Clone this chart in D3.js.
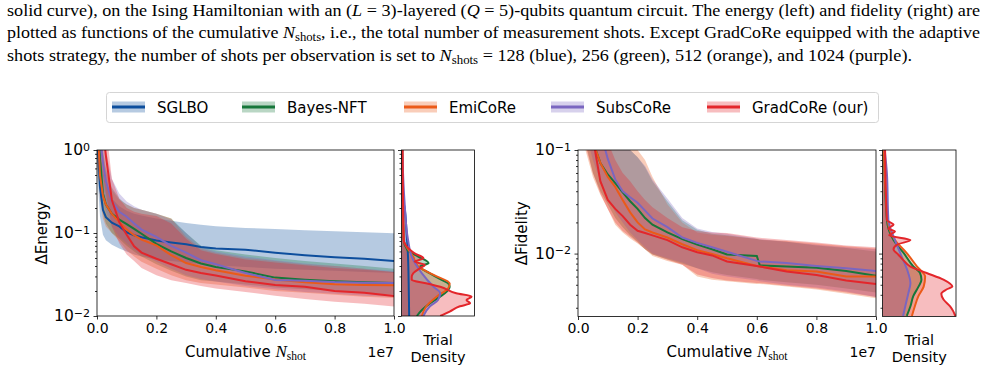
<!DOCTYPE html>
<html><head><meta charset="utf-8">
<script src="https://cdn.jsdelivr.net/npm/d3@7"></script>
<style>
  body { margin: 0; background: #fff; }
  svg text { font-family: "DejaVu Sans", sans-serif; fill: #000; }
  .cap { font-family: "Liberation Serif", "Times New Roman", serif; font-size: 17px; }
</style></head>
<body>
<svg id="fig" width="985" height="385"></svg>
<script>
// ---- data ----
var methods = ["SGLBO", "Bayes-NFT", "EmiCoRe", "SubsCoRe", "GradCoRe (our)"];
var colors  = ["#0d4e9d", "#16773a", "#eb5a18", "#7a66c0", "#e3262b"];

// cumulative shots (x 1e7), energy panel
var shotsE = [0, 0.01, 0.02, 0.03, 0.05, 0.075, 0.1, 0.125, 0.15, 0.2, 0.25, 0.3, 0.35, 0.4, 0.5, 0.6, 0.7, 0.8, 0.9, 1.0];

var eMeanSGLBO = [1.6, 0.36, 0.19, 0.155, 0.133, 0.12, 0.102, 0.094, 0.089, 0.081, 0.077, 0.073, 0.068, 0.065, 0.063, 0.058, 0.054, 0.051, 0.049, 0.046];
var eHiSGLBO   = [3, 1.0, 0.55, 0.38, 0.26, 0.21, 0.185, 0.17, 0.162, 0.15, 0.14, 0.132, 0.126, 0.121, 0.115, 0.112, 0.108, 0.105, 0.102, 0.099];
var eLoSGLBO   = [0.6, 0.16, 0.095, 0.082, 0.072, 0.065, 0.06, 0.055, 0.052, 0.048, 0.046, 0.044, 0.042, 0.041, 0.039, 0.037, 0.036, 0.035, 0.034, 0.033];

var eMeanBayes = [3, 0.8, 0.3, 0.22, 0.17, 0.145, 0.128, 0.112, 0.098, 0.074, 0.06, 0.05, 0.043, 0.039, 0.0345, 0.029, 0.0274, 0.0262, 0.0255, 0.025];
var eHiBayes   = [5, 2, 1.0, 0.6, 0.35, 0.26, 0.22, 0.2, 0.19, 0.17, 0.15, 0.1, 0.07, 0.062, 0.055, 0.05, 0.046, 0.043, 0.04, 0.037];
var eLoBayes   = [1, 0.3, 0.17, 0.13, 0.1, 0.085, 0.07, 0.06, 0.052, 0.042, 0.035, 0.03, 0.027, 0.026, 0.024, 0.022, 0.021, 0.02, 0.019, 0.018];

var eMeanEmi = [3, 0.5, 0.28, 0.22, 0.17, 0.135, 0.11, 0.094, 0.083, 0.071, 0.054, 0.0434, 0.039, 0.0356, 0.0306, 0.0276, 0.0255, 0.0242, 0.0237, 0.0234];
var eHiEmi   = [5, 2, 0.9, 0.55, 0.33, 0.25, 0.22, 0.2, 0.19, 0.17, 0.15, 0.09, 0.065, 0.058, 0.05, 0.046, 0.042, 0.04, 0.037, 0.034];
var eLoEmi   = [0.8, 0.25, 0.15, 0.12, 0.1, 0.08, 0.062, 0.052, 0.045, 0.037, 0.031, 0.027, 0.025, 0.024, 0.022, 0.02, 0.019, 0.018, 0.017, 0.0165];

var eMeanSubs = [5, 1.5, 0.7, 0.42, 0.241, 0.18, 0.157, 0.13, 0.11, 0.09, 0.07, 0.058, 0.047, 0.042, 0.033, 0.0272, 0.0266, 0.0256, 0.0252, 0.025];
var eHiSubs   = [10, 4, 2, 1.0, 0.45, 0.3, 0.24, 0.21, 0.19, 0.17, 0.145, 0.1, 0.068, 0.06, 0.052, 0.047, 0.043, 0.04, 0.037, 0.035];
var eLoSubs   = [1.5, 0.5, 0.28, 0.18, 0.12, 0.09, 0.075, 0.063, 0.055, 0.045, 0.037, 0.031, 0.028, 0.026, 0.023, 0.021, 0.0195, 0.0185, 0.0175, 0.017];

var eMeanGrad = [10, 4, 1.8, 0.85, 0.25, 0.135, 0.095, 0.069, 0.058, 0.049, 0.042, 0.036, 0.033, 0.0308, 0.0262, 0.0236, 0.0225, 0.02, 0.019, 0.0174];
var eHiGrad   = [10, 6, 4, 2, 0.45, 0.26, 0.2, 0.18, 0.17, 0.16, 0.13, 0.085, 0.062, 0.056, 0.048, 0.044, 0.041, 0.038, 0.036, 0.034];
var eLoGrad   = [1, 0.7, 0.5, 0.3, 0.12, 0.075, 0.055, 0.046, 0.038, 0.031, 0.027, 0.025, 0.023, 0.0215, 0.0195, 0.0175, 0.016, 0.0148, 0.014, 0.013];

// cumulative shots (x 1e7), fidelity panel (no SGLBO curve)
var shotsF = [0, 0.025, 0.05, 0.075, 0.1, 0.125, 0.15, 0.175, 0.2, 0.225, 0.25, 0.3, 0.35, 0.4, 0.45, 0.5, 0.6, 0.61, 0.7, 0.8, 0.9, 1.0];

var fMeanBayes = [0.5, 0.25, 0.12, 0.075, 0.058, 0.048, 0.039, 0.032, 0.027, 0.022, 0.019, 0.016, 0.0138, 0.0122, 0.011, 0.0098, 0.0095, 0.0077, 0.0075, 0.0073, 0.0068, 0.0061];
var fHiBayes   = [2, 1, 0.5, 0.3, 0.2, 0.15, 0.11, 0.1, 0.085, 0.068, 0.05, 0.032, 0.021, 0.017, 0.0155, 0.015, 0.0138, 0.0136, 0.013, 0.012, 0.0113, 0.0105];
var fLoBayes   = [0.3, 0.12, 0.06, 0.04, 0.03, 0.022, 0.018, 0.015, 0.013, 0.011, 0.0098, 0.0088, 0.008, 0.0072, 0.0066, 0.0062, 0.0057, 0.0056, 0.0053, 0.005, 0.0046, 0.0042];

var fMeanEmi = [0.5, 0.25, 0.12, 0.075, 0.055, 0.044, 0.033, 0.025, 0.02, 0.0171, 0.016, 0.0143, 0.0123, 0.0108, 0.0099, 0.009, 0.0076, 0.0075, 0.0069, 0.0067, 0.006, 0.006];
var fHiEmi   = [2, 1, 0.5, 0.3, 0.2, 0.15, 0.12, 0.11, 0.1, 0.08, 0.055, 0.03, 0.02, 0.016, 0.0152, 0.0148, 0.0138, 0.0136, 0.0132, 0.0125, 0.0118, 0.0112];
var fLoEmi   = [0.3, 0.1, 0.055, 0.037, 0.027, 0.019, 0.016, 0.014, 0.0125, 0.011, 0.0095, 0.0085, 0.0078, 0.006, 0.0056, 0.0054, 0.0051, 0.0051, 0.0048, 0.0045, 0.0041, 0.0037];

var fMeanSubs = [1, 0.6, 0.3, 0.15, 0.082, 0.052, 0.04, 0.035, 0.031, 0.026, 0.0218, 0.018, 0.0143, 0.0127, 0.0115, 0.0104, 0.0085, 0.0084, 0.0081, 0.0076, 0.0072, 0.0068];
var fHiSubs   = [2, 1, 0.6, 0.4, 0.25, 0.16, 0.12, 0.1, 0.085, 0.07, 0.052, 0.034, 0.022, 0.0175, 0.0162, 0.0155, 0.014, 0.0138, 0.013, 0.0122, 0.0115, 0.011];
var fLoSubs   = [0.4, 0.15, 0.08, 0.05, 0.035, 0.025, 0.02, 0.016, 0.0135, 0.0115, 0.01, 0.009, 0.0082, 0.0072, 0.0064, 0.006, 0.0055, 0.0054, 0.005, 0.0047, 0.0043, 0.0038];

var fMeanGrad = [1, 0.4, 0.13, 0.05, 0.033, 0.027, 0.023, 0.019, 0.0166, 0.0158, 0.015, 0.0135, 0.0115, 0.0103, 0.0096, 0.0084, 0.0076, 0.0075, 0.0067, 0.0062, 0.0055, 0.0051];
var fHiGrad   = [2, 1, 0.4, 0.2, 0.12, 0.08, 0.06, 0.05, 0.04, 0.033, 0.028, 0.022, 0.018, 0.0165, 0.016, 0.0158, 0.0143, 0.0142, 0.0135, 0.0128, 0.012, 0.0115];
var fLoGrad   = [0.3, 0.11, 0.06, 0.038, 0.027, 0.02, 0.0165, 0.0145, 0.0128, 0.011, 0.0098, 0.0087, 0.0078, 0.0063, 0.0058, 0.0055, 0.0052, 0.0052, 0.0049, 0.0046, 0.0042, 0.0038];

// trial density of final values: [value, density]
var kdeESGLBO = [[0.25, 0.1], [0.207, 0.4], [0.1, 0.7], [0.05, 0.9], [0.02, 1.0], [0.01, 1.05]];
var kdeEBayes = [[1.0, 0.1], [0.0823, 0.3], [0.0624, 0.8], [0.052, 2.3], [0.0433, 3.7], [0.0394, 2.5], [0.0327, 3.9], [0.0272, 5.5], [0.0247, 6.4], [0.0225, 6.6], [0.0197, 6.2], [0.0171, 5.3], [0.0142, 3.9], [0.0118, 2.8], [0.01, 2.1]];
var kdeEEmi   = [[1.0, 0.1], [0.0823, 0.3], [0.052, 1.6], [0.0394, 2.3], [0.0312, 4.4], [0.0247, 6.6], [0.0216, 6.4], [0.0171, 4.8], [0.0131, 3.4], [0.01, 2.8]];
var kdeESubs  = [[1.0, 0.1], [0.25, 0.4], [0.0823, 0.9], [0.052, 1.4], [0.0327, 2.8], [0.0225, 4.4], [0.0188, 5.3], [0.0156, 5.0], [0.0131, 3.9], [0.01, 3.0]];
var kdeEGrad  = [[1.0, 0.15], [0.0823, 0.3], [0.0624, 1.2], [0.0568, 1.8], [0.0496, 3.0], [0.0452, 1.8], [0.0412, 3.2], [0.0375, 2.5], [0.0327, 1.6], [0.0297, 1.4], [0.0272, 1.4], [0.0247, 3.5], [0.0225, 5.3], [0.0188, 7.5], [0.0171, 9.6], [0.0156, 8.9], [0.0142, 9.4], [0.0131, 8.0], [0.0113, 6.6], [0.01, 5.3]];

var kdeFBayes = [[0.1, 0.2], [0.0211, 0.6], [0.0135, 1.5], [0.0101, 2.9], [0.0075, 4.2], [0.0065, 5.1], [0.0056, 5.3], [0.0048, 4.9], [0.0039, 4.2], [0.0031, 3.8], [0.0025, 3.3]];
var kdeFEmi   = [[0.1, 0.2], [0.0211, 0.7], [0.0135, 1.7], [0.0101, 3.3], [0.0075, 4.7], [0.006, 5.8], [0.0048, 5.6], [0.0039, 4.9], [0.0031, 4.4], [0.0025, 4.0]];
var kdeFSubs  = [[0.1, 0.3], [0.0596, 0.6], [0.0211, 0.8], [0.0135, 1.7], [0.0094, 2.6], [0.0065, 3.5], [0.0052, 3.8], [0.0041, 3.5], [0.0031, 3.1], [0.0025, 2.8]];
var kdeFGrad  = [[0.1, 0.35], [0.0211, 0.6], [0.019, 1.5], [0.0175, 0.8], [0.0163, 1.7], [0.015, 0.9], [0.0135, 3.8], [0.0122, 2.0], [0.011, 1.5], [0.0097, 2.2], [0.0087, 2.8], [0.0075, 3.8], [0.0065, 6.0], [0.0056, 8.3], [0.0048, 9.5], [0.0045, 8.7], [0.0041, 8.0], [0.0036, 8.3], [0.0031, 9.2], [0.0028, 9.6], [0.0025, 9.9]];

var xTicks = [0, 0.2, 0.4, 0.6, 0.8, 1.0];

// ---- caption (text of the page around the figure) ----
var svg = d3.select("#fig");

var capLines = [
  { y: 16, w: 973, parts: [["solid curve), on the Ising Hamiltonian with an ("], ["L", "i"], [" = 3)-layered ("], ["Q", "i"], [" = 5)-qubits quantum circuit. The energy (left) and fidelity (right) are"]] },
  { y: 38, w: 973, parts: [["plotted as functions of the cumulative "], ["N", "i"], ["shots", "sub"], [", i.e., the total number of measurement shots. Except GradCoRe equipped with the adaptive"]] },
  { y: 61, w: 905, parts: [["shots strategy, the number of shots per observation is set to "], ["N", "i"], ["shots", "sub"], [" = 128 (blue), 256 (green), 512 (orange), and 1024 (purple)."]] }
];
capLines.forEach(function(l) {
  var t = svg.append("text").attr("class", "cap").attr("x", 7).attr("y", l.y)
    .attr("textLength", l.w).attr("lengthAdjust", "spacingAndGlyphs");
  var shift = 0;
  l.parts.forEach(function(p) {
    var s = t.append("tspan").text(p[0]);
    var dy = 0;
    if (p[1] == "i") s.style("font-style", "italic");
    if (p[1] == "sub") { s.attr("font-size", "12px"); dy = 3; }
    s.attr("dy", dy - shift);
    shift = dy;
  });
});

// ---- legend ----
var legX = [112, 242, 404, 551, 707];
var leg = svg.append("g");
leg.append("rect").attr("x", 106.5).attr("y", 92.5).attr("width", 772).attr("height", 30)
  .attr("rx", 3).attr("fill", "#fff").attr("stroke", "#d5d5d5").attr("stroke-width", 1);
methods.forEach(function(m, i) {
  var g = leg.append("g").attr("transform", "translate(" + legX[i] + ",107)");
  g.append("rect").attr("x", 0).attr("y", -5.5).attr("width", 33).attr("height", 11)
    .attr("fill", colors[i]).attr("fill-opacity", 0.3);
  g.append("line").attr("x1", 0).attr("x2", 33).attr("stroke", colors[i]).attr("stroke-width", 3);
  g.append("text").attr("x", 45).attr("y", 5.5).attr("font-size", "15px").text(m);
});

// ---- panels ----
var eSeries = [
  [eMeanSGLBO, eLoSGLBO, eHiSGLBO, kdeESGLBO, 0],
  [eMeanBayes, eLoBayes, eHiBayes, kdeEBayes, 1],
  [eMeanEmi, eLoEmi, eHiEmi, kdeEEmi, 2],
  [eMeanSubs, eLoSubs, eHiSubs, kdeESubs, 3],
  [eMeanGrad, eLoGrad, eHiGrad, kdeEGrad, 4]
];
var fSeries = [
  [fMeanBayes, fLoBayes, fHiBayes, kdeFBayes, 1],
  [fMeanEmi, fLoEmi, fHiEmi, kdeFEmi, 2],
  [fMeanSubs, fLoSubs, fHiSubs, kdeFSubs, 3],
  [fMeanGrad, fLoGrad, fHiGrad, kdeFGrad, 4]
];

var supMinus = function(v) {
  var e = Math.round(Math.log10(v));
  return e < 0 ? "\u2212" + (-e) : "" + e;
};

function panel(id, o) {
  var x = d3.scaleLinear().domain([0, 1]).range([o.x0, o.x1]);
  var y = d3.scaleLog().domain(o.yDom).range([o.y1, o.y0]);
  var xd = d3.scaleLinear().domain([0, 10]).range([o.d0, o.d1]);

  svg.append("clipPath").attr("id", "c" + id).append("rect")
    .attr("x", o.x0).attr("y", o.y0).attr("width", o.x1 - o.x0).attr("height", o.y1 - o.y0);
  svg.append("clipPath").attr("id", "d" + id).append("rect")
    .attr("x", o.d0).attr("y", o.y0).attr("width", o.d1 - o.d0).attr("height", o.y1 - o.y0);

  var plot = svg.append("g").attr("clip-path", "url(#c" + id + ")");
  var xs = o.xs;
  var band = d3.area().x(function(d, i) { return x(xs[i]); })
    .y0(function(d) { return y(d[0]); }).y1(function(d) { return y(d[1]); });
  var line = d3.line().x(function(d, i) { return x(xs[i]); }).y(function(d) { return y(d); });

  o.series.forEach(function(s) {
    plot.append("path").datum(s[1].map(function(v, i) { return [v, s[2][i]]; }))
      .attr("d", band).attr("fill", colors[s[4]]).attr("fill-opacity", 0.3);
  });
  o.series.forEach(function(s) {
    plot.append("path").datum(s[0]).attr("d", line).attr("fill", "none")
      .attr("stroke", colors[s[4]]).attr("stroke-width", 2);
  });

  // density
  var dens = svg.append("g").attr("clip-path", "url(#d" + id + ")");
  var dArea = d3.area().y(function(d) { return y(d[0]); }).x0(o.d0)
    .x1(function(d) { return xd(d[1]); }).curve(d3.curveMonotoneY);
  var dLine = d3.line().y(function(d) { return y(d[0]); })
    .x(function(d) { return xd(d[1]); }).curve(d3.curveMonotoneY);
  o.series.forEach(function(s) {
    dens.append("path").datum(s[3]).attr("d", dArea).attr("fill", colors[s[4]]).attr("fill-opacity", 0.3);
  });
  o.series.forEach(function(s) {
    dens.append("path").datum(s[3]).attr("d", dLine).attr("fill", "none")
      .attr("stroke", colors[s[4]]).attr("stroke-width", 2);
  });

  // axes
  var majors = o.majors, minors = o.minors;
  var xa = svg.append("g").attr("transform", "translate(0," + o.y1 + ")")
    .call(d3.axisBottom(x).tickValues(xTicks).tickFormat(d3.format(".1f")).tickSize(3.5).tickPadding(3.5).tickSizeOuter(0));
  var ya = svg.append("g").attr("transform", "translate(" + o.x0 + ",0)")
    .call(d3.axisLeft(y).tickValues(majors).tickSize(3.5).tickPadding(3.5).tickSizeOuter(0));
  ya.selectAll(".tick text").each(function(v) {
    var t = d3.select(this).text("10");
    t.append("tspan").attr("dy", "-0.45em").attr("font-size", "11px").text(supMinus(v));
  });
  svg.append("g").attr("transform", "translate(" + o.x0 + ",0)")
    .call(d3.axisLeft(y).tickValues(minors).tickSize(2).tickFormat("").tickSizeOuter(0));
  svg.append("g").attr("transform", "translate(" + o.d0 + ",0)")
    .call(d3.axisLeft(y).tickValues(majors).tickSize(3.5).tickFormat("").tickSizeOuter(0));
  svg.append("g").attr("transform", "translate(" + o.d0 + ",0)")
    .call(d3.axisLeft(y).tickValues(minors).tickSize(2).tickFormat("").tickSizeOuter(0));
  [xa, ya].forEach(function(a) { a.attr("font-size", null).attr("font-family", null).selectAll("text").attr("font-size", null); });
  xa.selectAll(".tick text").style("font-size", "14px");
  ya.selectAll(".tick text").style("font-size", "15.5px");
  svg.selectAll(".domain").remove();
  svg.selectAll(".tick line").attr("stroke", "#000").attr("stroke-width", 0.8);

  // frames
  [[o.x0, o.x1], [o.d0, o.d1]].forEach(function(r) {
    svg.append("rect").attr("x", r[0]).attr("y", o.y0).attr("width", r[1] - r[0]).attr("height", o.y1 - o.y0)
      .attr("fill", "none").attr("stroke", "#000").attr("stroke-width", 0.8);
  });

  // labels
  svg.append("text").attr("x", o.x1).attr("y", 357).attr("text-anchor", "end").style("font-size", "14px").text("1e7");
  var xl = svg.append("text").attr("x", (o.x0 + o.x1) / 2).attr("y", 357).attr("text-anchor", "middle").style("font-size", "15px");
  xl.append("tspan").text("Cumulative ");
  xl.append("tspan").text("N").style("font-family", "'Liberation Serif', serif").style("font-style", "italic").style("font-size", "17px");
  xl.append("tspan").text("shot").attr("dy", 3).style("font-family", "'Liberation Serif', serif").style("font-size", "11.5px");
  var dl = svg.append("text").attr("text-anchor", "middle").style("font-size", "14.5px");
  dl.append("tspan").attr("x", (o.d0 + o.d1) / 2).attr("y", 345).text("Trial");
  dl.append("tspan").attr("x", (o.d0 + o.d1) / 2).attr("y", 362).text("Density");
  svg.append("text").attr("transform", "translate(" + o.yl + "," + ((o.y0 + o.y1) / 2) + ") rotate(-90)")
    .attr("text-anchor", "middle").attr("dy", "0.35em").style("font-size", "15px").text(o.ylabel);
}

panel("E", {
  x0: 97, x1: 394, y0: 150, y1: 316, d0: 401.5, d1: 474.5, yl: 42,
  yDom: [0.01, 1], xs: shotsE, series: eSeries, ylabel: "\u0394Energy",
  majors: [0.01, 0.1, 1],
  minors: [0.02, 0.03, 0.04, 0.05, 0.06, 0.07, 0.08, 0.09, 0.2, 0.3, 0.4, 0.5, 0.6, 0.7, 0.8, 0.9]
});
panel("F", {
  x0: 578, x1: 876, y0: 150, y1: 316.5, d0: 882.5, d1: 956, yl: 522,
  yDom: [0.00247, 0.1], xs: shotsF, series: fSeries, ylabel: "\u0394Fidelity",
  majors: [0.01, 0.1],
  minors: [0.003, 0.004, 0.005, 0.006, 0.007, 0.008, 0.009, 0.02, 0.03, 0.04, 0.05, 0.06, 0.07, 0.08, 0.09]
});
</script>
</body></html>
